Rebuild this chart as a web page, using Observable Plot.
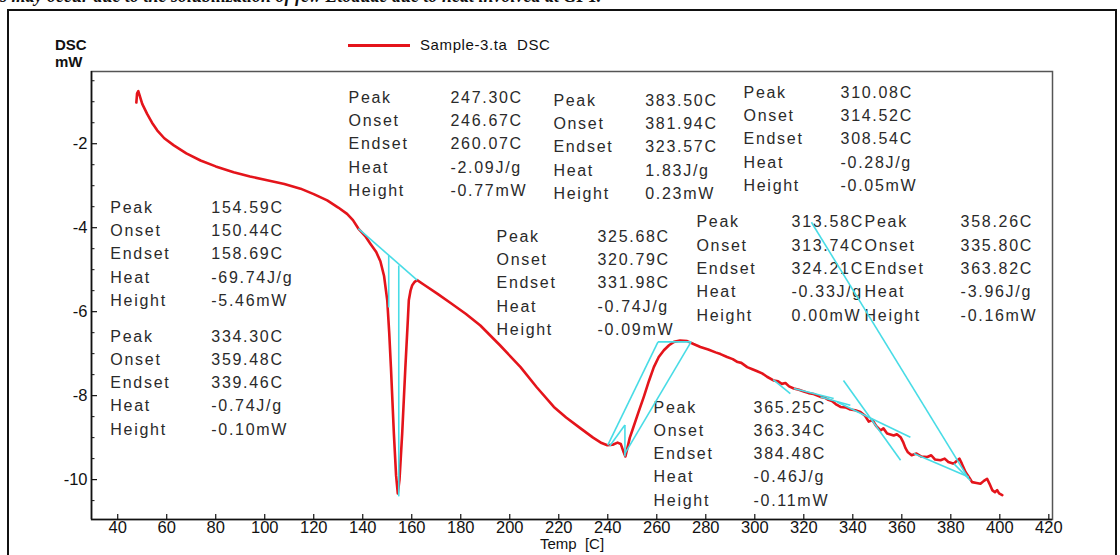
<!DOCTYPE html>
<html><head><meta charset="utf-8">
<script src="https://cdn.jsdelivr.net/npm/d3@7"></script>
<script src="https://cdn.jsdelivr.net/npm/@observablehq/plot@0.6"></script>
<style>
body{margin:0;background:#fff;}
#wrap{position:relative;width:1120px;height:555px;overflow:hidden;font-family:"Liberation Sans",Arial,sans-serif;background:#fff;}
#wrap svg{position:absolute;left:0;top:0;}
#hdr{position:absolute;left:0;top:-13px;font:italic bold 18px "Liberation Serif",serif;line-height:18px;white-space:nowrap;color:#111;}
#box{position:absolute;left:7px;top:9px;width:1110px;height:600px;border:2px solid #111;box-sizing:border-box;}
#dsclab{position:absolute;left:55px;top:36px;font:bold 15px "Liberation Sans",Arial,sans-serif;line-height:17px;color:#111;}
#leg{position:absolute;left:348px;top:36px;height:18px;font:15px "Liberation Sans",Arial,sans-serif;color:#111;}
#leg .ln{position:absolute;left:0;top:8px;width:62px;height:3px;background:#e4141b;}
#leg .tx{position:absolute;left:72px;top:0;white-space:pre;letter-spacing:0.6px;}
</style></head><body><div id="wrap"></div>
<script>
// DSC trace: [temperature C, heat flow mW]
const dscCurve = [
[47.6,-1.02],[47.9,-0.80],[48.4,-0.75],[49.0,-0.86],[50.0,-1.05],[52.0,-1.29],[54.0,-1.50],[56.1,-1.68],
[59.0,-1.87],[62.9,-2.04],[68.0,-2.23],[73.8,-2.40],[80.0,-2.54],[87.3,-2.68],[94.0,-2.78],[101.0,-2.87],
[108.0,-2.96],[114.6,-3.07],[120.0,-3.20],[125.5,-3.35],[130.0,-3.52],[133.6,-3.67],[136.0,-3.82],[138.2,-4.02],
[141.0,-4.20],[143.1,-4.38],[145.5,-4.58],[147.2,-4.80],[148.7,-5.15],[150.0,-5.73],[150.8,-6.50],[151.5,-7.32],
[152.7,-8.90],[153.6,-9.90],[154.3,-10.33],[155.0,-10.00],[156.1,-8.90],[157.4,-7.32],[158.4,-6.20],[158.8,-5.73],
[159.5,-5.50],[160.2,-5.37],[161.2,-5.29],[162.2,-5.25],[165.0,-5.36],[170.4,-5.57],[176.0,-5.80],[182.0,-6.05],
[188.0,-6.33],[196.0,-6.80],[204.4,-7.32],[211.0,-7.80],[218.0,-8.27],[223.0,-8.52],[228.9,-8.78],[234.0,-9.00],
[237.5,-9.13],[239.8,-9.18],[242.0,-9.17],[244.0,-9.12],[245.3,-9.15],[246.5,-9.35],[247.2,-9.45],[248.0,-9.25],
[249.0,-9.00],[250.0,-8.83],[252.5,-8.40],[254.7,-8.03],[256.8,-7.65],[258.8,-7.32],[260.8,-7.08],[262.9,-6.92],
[265.0,-6.80],[267.0,-6.72],[269.5,-6.69],[272.4,-6.70],[275.0,-6.77],[277.8,-6.84],[281.0,-6.90],[284.0,-6.97],
[286.0,-7.01],[288.7,-7.08],[291.0,-7.13],[293.0,-7.20],[294.5,-7.22],[296.9,-7.32],[299.0,-7.37],[301.0,-7.42],
[303.0,-7.47],[305.0,-7.55],[307.8,-7.64],[309.5,-7.66],[311.0,-7.72],[312.5,-7.70],[314.0,-7.78],[315.9,-7.83],
[318.0,-7.86],[320.0,-7.90],[322.0,-7.94],[324.0,-7.96],[326.8,-8.03],[328.5,-8.05],[330.0,-8.10],[331.5,-8.13],
[333.0,-8.20],[335.0,-8.27],[337.0,-8.28],[339.0,-8.33],[341.0,-8.35],[343.1,-8.39],[345.0,-8.48],[346.5,-8.62],
[348.0,-8.58],[349.5,-8.72],[351.3,-8.83],[352.5,-8.78],[354.0,-8.90],[356.7,-8.95],[358.0,-8.92],[359.5,-8.99],
[360.5,-9.10],[361.5,-9.25],[362.5,-9.35],[364.0,-9.42],[366.0,-9.38],[368.0,-9.45],[370.4,-9.46],[372.0,-9.42],
[373.5,-9.52],[375.8,-9.54],[377.5,-9.50],[379.0,-9.58],[381.2,-9.62],[382.5,-9.55],[383.5,-9.50],[384.5,-9.62],
[386.0,-9.82],[387.5,-9.95],[388.7,-10.06],[390.5,-10.08],[392.1,-10.10],[393.5,-10.03],[394.8,-9.98],[395.8,-10.10],
[396.9,-10.25],[398.0,-10.30],[398.9,-10.25],[399.7,-10.33],[401.0,-10.37]
];

// Analysis (tangent / baseline) segments: [t1, v1, t2, v2]
const tangents = [
[138.2,-4.02,162.2,-5.25],[150.6,-4.66,150.6,-5.90],[154.7,-4.90,154.7,-10.40],
[240.0,-9.18,260.5,-6.72],[260.5,-6.72,274.0,-6.72],[274.0,-6.72,246.8,-9.40],
[240.8,-9.20,247.0,-8.70],[247.0,-8.70,247.0,-9.45],
[307.5,-7.62,314.5,-7.95],[315.9,-7.83,332.2,-8.07],[326.8,-8.03,339.0,-8.23],
[336.2,-7.64,359.5,-9.54],[333.6,-8.15,363.5,-8.99],[323.1,-3.87,387.2,-9.97],
[364.9,-9.38,387.3,-9.94],[381.2,-9.62,388.0,-10.02]
];

const xTicks = [40,60,80,100,120,140,160,180,200,220,240,260,280,300,320,340,360,380,400,420];
const yTicks = [-2,-4,-6,-8,-10];
const yMinor = [-0.5,-1,-1.5,-2.5,-3,-3.5,-4.5,-5,-5.5,-6.5,-7,-7.5,-8.5,-9,-9.5,-10.5];

const rowLabels = ["Peak","Onset","Endset","Heat","Height"];
const valsA = ["247.30C","246.67C","260.07C","-2.09J/g","-0.77mW"];
const valsB = ["383.50C","381.94C","323.57C","1.83J/g","0.23mW"];
const valsC = ["310.08C","314.52C","308.54C","-0.28J/g","-0.05mW"];
const valsD = ["154.59C","150.44C","158.69C","-69.74J/g","-5.46mW"];
const valsE = ["334.30C","359.48C","339.46C","-0.74J/g","-0.10mW"];
const valsF = ["325.68C","320.79C","331.98C","-0.74J/g","-0.09mW"];
const valsG = ["313.58C","313.74C","324.21C","-0.33J/g","0.00mW"];
const valsH = ["358.26C","335.80C","363.82C","-3.96J/g","-0.16mW"];
const valsI = ["365.25C","363.34C","384.48C","-0.46J/g","-0.11mW"];

// block placement in data units: [label temp, value temp, first row mW, values]
const blocks = [
  [134.2,175.8,-0.90,valsA],[217.8,255.3,-0.97,valsB],[295.4,335.0,-0.78,valsC],
  [37.0,78.2,-3.52,valsD],[37.0,78.2,-6.59,valsE],[194.6,235.8,-4.21,valsF],
  [276.2,315.0,-3.87,valsG],[344.8,384.0,-3.87,valsH],[258.7,299.5,-8.28,valsI]
];
const rowStep = 0.555;

const xDom = [29.3,421.5], yDom = [-10.95,-0.28];

const curveData = dscCurve.map(([t,v]) => ({t,v}));
const segData = tangents.map(([x1,y1,x2,y2]) => ({x1,y1,x2,y2}));
const annot = [];
for (const [lx,vx,y0,vals] of blocks) {
  vals.forEach((s,i) => {
    annot.push({x:lx, y:y0 - i*rowStep, s:rowLabels[i]});
    annot.push({x:vx, y:y0 - i*rowStep, s:s});
  });
}

const plot = Plot.plot({
  width:1120, height:555,
  marginLeft:91, marginRight:68, marginTop:71, marginBottom:36,
  x:{domain:xDom}, y:{domain:yDom},
  style:{fontFamily:"Liberation Sans, Arial, sans-serif", background:"transparent", color:"#111"},
  marks:[
    Plot.frame({stroke:"#555", strokeWidth:1.5}),
    Plot.ruleY([yDom[0]], {stroke:"#111", strokeWidth:1.6}),
    Plot.ruleX([xDom[0]], {stroke:"#111", strokeWidth:1.6}),
    Plot.ruleX(xTicks, {y1:yDom[0], y2:yDom[0] + 5/42, stroke:"#111", strokeWidth:1.2}),
    Plot.ruleY(yTicks, {x1:xDom[0], x2:xDom[0] + 6/2.45, stroke:"#111", strokeWidth:1.2}),
    Plot.ruleY(yMinor, {x1:xDom[0], x2:xDom[0] + 3.5/2.45, stroke:"#111", strokeWidth:1}),
    Plot.axisX({ticks:xTicks, tickSize:0, tickPadding:2, fontSize:16.5, label:null, tickFormat:d => String(d)}),
    Plot.axisY({ticks:yTicks, tickSize:0, tickPadding:4, fontSize:16.5, label:null, tickFormat:d => String(d)}),
    Plot.text(["Temp  [C]"], {frameAnchor:"bottom", dy:29, fontSize:15}),
    Plot.text(annot, {x:"x", y:"y", text:"s", textAnchor:"start", fontSize:16, fill:"#2a2a2a", className:"annot"}),
    Plot.line(curveData, {x:"t", y:"v", stroke:"#e4141b", strokeWidth:2.6, curve:"linear"}),
    Plot.link(segData, {x1:"x1", y1:"y1", x2:"x2", y2:"y2", stroke:"#48dce6", strokeWidth:1.6})
  ]
});

// letter-spaced annotation text, as in the instrument printout
const annotSet = new Set(annot.map(d => d.s));
plot.querySelectorAll("text").forEach(el => {
  if (el.closest('[aria-label="text"]') && annotSet.has(el.textContent)) el.style.letterSpacing = "1.7px";
});

const wrap = document.getElementById("wrap");
wrap.appendChild(plot);
wrap.insertAdjacentHTML("beforeend",
  '<div id="hdr">s may occur due to the solubilization of few Etoduac due to heat involved at GPT.</div>' +
  '<div id="box"></div>' +
  '<div id="dsclab">DSC<br>mW</div>' +
  '<div id="leg"><div class="ln"></div><div class="tx">Sample-3.ta  DSC</div></div>');
</script>
</body></html>
